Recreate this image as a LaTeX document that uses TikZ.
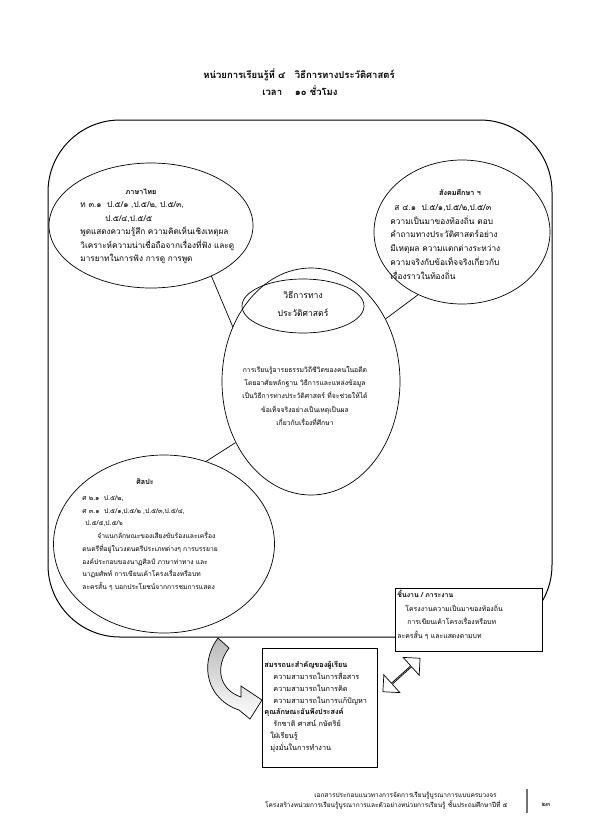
\documentclass[tikz,border=0pt]{standalone}
\usepackage{fontspec}
\setmainfont[Script=Thai]{Loma}
\usetikzlibrary{shapes.geometric,shapes.arrows}

\definecolor{bargray}{gray}{0.45}
\def\bodyA{\fontsize{8.2}{13.5}\selectfont}
\def\bodyB{\fontsize{8.3}{13.7}\selectfont}
\def\bodyC{\fontsize{6.8}{13.2}\selectfont}
\def\bodyD{\fontsize{6.7}{12.7}\selectfont}
\def\bodyE{\fontsize{6.9}{13.5}\selectfont}
\def\bodyF{\fontsize{7.3}{11.85}\selectfont}
\tikzstyle{subject}=[draw,ellipse,line width=0.7pt,inner sep=0pt]
\tikzstyle{head}=[font=\bfseries\fontsize{7.2}{8}\selectfont,inner sep=0pt,anchor=base]
\tikzstyle{txt}=[align=left,inner sep=0pt,anchor=base west]
\tikzstyle{panel}=[draw,rectangle,fill=white,line width=0.7pt,inner sep=0pt]
\tikzstyle{foot}=[font=\fontsize{6.5}{8}\selectfont,inner sep=0pt,anchor=base east]

\begin{document}
\begin{tikzpicture}[x=1pt,y=-1pt,thick]
  \useasboundingbox (0,0) rectangle (595,836);
  \fill[white] (0,0) rectangle (595,836);

  % unit title
  \node[font=\bfseries\fontsize{9.5}{11}\selectfont,inner sep=0pt,anchor=base] (unitT) at (299,78) {หน่วยการเรียนรู้ที่ ๔\quad วิธีการทางประวัติศาสตร์};
  \node[font=\bfseries\fontsize{9.5}{11}\selectfont,inner sep=0pt,anchor=base] (timeT) at (300,95.5) {เวลา\quad\ ๑๐ ชั่วโมง};

  % frame round the web, from (48,120) to (552,637)
  \node[draw,rectangle,rounded corners=72pt,line width=1pt,minimum width=504pt,minimum height=517pt] (unit) at (300,378.5) {};

  % thai language, last line at 261.5
  \node[subject,minimum width=204pt,minimum height=125pt] (thai) at (151,225.5) {};
  \node[head] (thaiT) at (141,194.5) {ภาษาไทย};
  \node[txt,font=\bodyA] (thaiB) at (80,261.5) {ท ๓.๑\ \ ป.๕/๑ ,ป.๕/๒, ป.๕/๓,\\
    \hspace{25pt}ป.๕/๔,ป.๕/๕\\
    พูดแสดงความรู้สึก ความคิดเห็นเชิงเหตุผล\\
    วิเคราะห์ความน่าเชื่อถือจากเรื่องที่ฟัง และดู\\
    มารยาทในการฟัง การดู การพูด};

  % social studies, last line at 279
  \node[subject,minimum width=176pt,minimum height=144pt] (soc) at (462,232) {};
  \node[head] (socT) at (460,195.5) {สังคมศึกษา ฯ};
  \node[txt,font=\bodyB] (socB) at (390,279) {\hspace{4pt}ส ๔.๑\ \ ป.๕/๑,ป.๕/๒,ป.๕/๓\\
    ความเป็นมาของท้องถิ่น ตอบ\\
    คำถามทางประวัติศาสตร์อย่าง\\
    มีเหตุผล ความแตกต่างระหว่าง\\
    ความจริงกับข้อเท็จจริงเกี่ยวกับ\\
    เรื่องราวในท้องถิ่น};

  % history method, the centre
  \node[subject,minimum width=178pt,minimum height=227pt] (hist) at (311,381.5) {};
  \node[subject,minimum width=122pt,minimum height=54pt] (histT) at (303,306) {};
  \node[font=\fontsize{8.6}{18}\selectfont,align=center,inner sep=0pt,anchor=base] (histN) at (303,316) {วิธีการทาง\\ประวัติศาสตร์};
  \node[align=center,inner sep=0pt,anchor=base,font=\bodyC] (histB) at (305,425.3) {การเรียนรู้อารยธรรมวิถีชีวิตของคนในอดีต\\
    โดยอาศัยหลักฐาน วิธีการและแหล่งข้อมูล\\
    เป็นวิธีการทางประวัติศาสตร์ ที่จะช่วยให้ได้\\
    ข้อเท็จจริงอย่างเป็นเหตุเป็นผล\\
    เกี่ยวกับเรื่องที่ศึกษา};

  % arts, last line at 589.4
  \node[subject,minimum width=221pt,minimum height=178pt] (art) at (164,544) {};
  \node[head] (artT) at (145,484.5) {ศิลปะ};
  \node[txt,font=\bodyD] (artB) at (82,589.4) {ศ ๒.๑\ \ ป.๕/๒,\\
    ศ ๓.๑\ \ ป.๕/๑,ป.๕/๒ ,ป.๕/๓,ป.๕/๔,\\
    \hspace{3pt}ป.๕/๕,ป.๕/๖\\
    \hspace{15pt}จำแนกลักษณะของเสียงขับร้องและเครื่อง\\
    ดนตรีที่อยู่ในวงดนตรีประเภทต่างๆ การบรรยาย\\
    องค์ประกอบของนาฏศิลป์ ภาษาท่าทาง และ\\
    นาฏยศัพท์ การเขียนเค้าโครงเรื่องหรือบท\\
    ละครสั้น ๆ บอกประโยชน์จากการชมการแสดง};

  \draw[line width=0.7pt] (thai.-40) -- (hist.145);
  \draw[line width=0.7pt] (soc.235) -- (hist.40);
  \draw[line width=0.7pt] (art.63) -- (hist.219);

  % task box, over the corner of the frame
  \node[panel,minimum width=147pt,minimum height=63pt] (task) at (468.5,619.5) {};
  \node[txt,font=\bodyE] (taskB) at (397,638) {\textbf{ชิ้นงาน / ภาระงาน}\\
    \hspace{8pt}โครงงานความเป็นมาของท้องถิ่น\\
    \hspace{10pt}การเขียนเค้าโครงเรื่องหรือบท\\
    ละครสั้น ๆ และแสดงตามบท};

  % competences box
  \node[panel,minimum width=115pt,minimum height=119pt] (skill) at (319.5,707.5) {};
  \node[txt,font=\bodyF] (skillB) at (264,750.5) {\textbf{สมรรถนะสำคัญของผู้เรียน}\\
    \hspace{9pt}ความสามารถในการสื่อสาร\\
    \hspace{9pt}ความสามารถในการคิด\\
    \hspace{9pt}ความสามารถในการแก้ปัญหา\\
    \textbf{คุณลักษณะอันพึงประสงค์}\\
    \hspace{9pt}รักชาติ ศาสน์ กษัตริย์\\
    \hspace{6pt}ใฝ่เรียนรู้\\
    \hspace{6pt}มุ่งมั่นในการทำงาน};

  % curved arrow from the frame down to the box
  \shade[draw,line width=0.7pt,top color=gray!55,bottom color=white]
    (218,638) .. controls (198,665) and (208,700) .. (239,710) -- (250,719) -- (262,700)
    -- (241,686) -- (241,697) .. controls (220,690) and (214,668) .. (229,648) -- cycle;

  % two way arrow
  \node[double arrow,draw,fill=white,line width=0.7pt,inner sep=0pt,rotate=42,
        minimum width=24pt,minimum height=50pt,double arrow head extend=6pt] (link) at (401.5,675) {};

  % footer
  \node[foot] (docA) at (497,797.5) {เอกสารประกอบแนวทางการจัดการเรียนรู้บูรณาการแบบครบวงจร};
  \node[foot] (docB) at (508,807.5) {โครงสร้างหน่วยการเรียนรู้บูรณาการและตัวอย่างหน่วยการเรียนรู้ ชั้นประถมศึกษาปีที่ ๕};
  \draw[bargray,line width=2.2pt] (527,789) -- (527,813);
  \node[foot,anchor=base] (page) at (546,806) {๒๓};

\end{tikzpicture}
\end{document}
